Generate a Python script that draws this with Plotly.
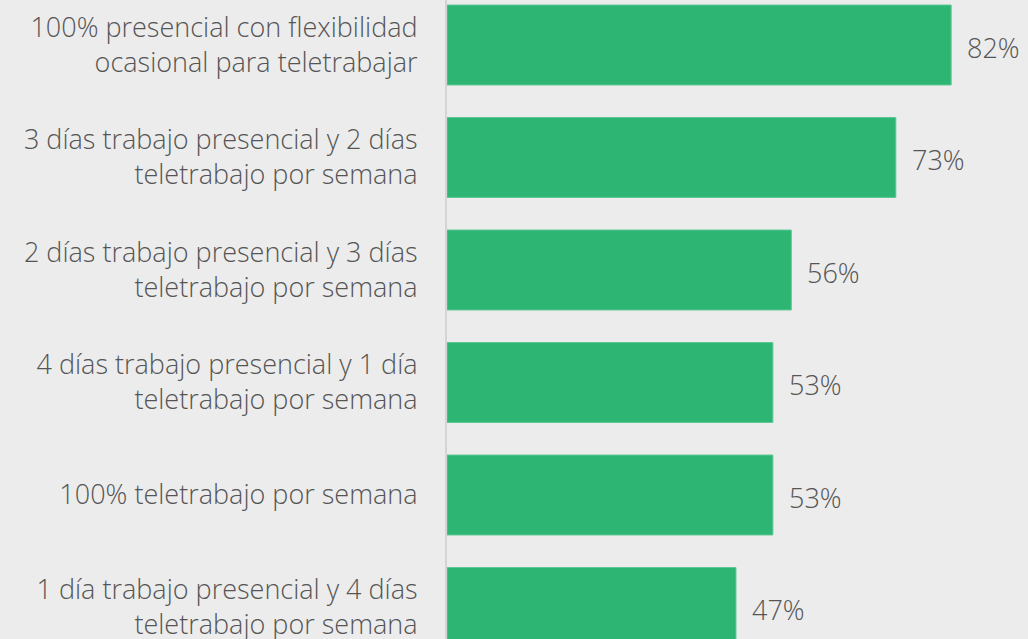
import plotly.graph_objects as go

categories = [
    "100% presencial con flexibilidad<br>ocasional para teletrabajar",
    "3 días trabajo presencial y 2 días<br>teletrabajo por semana",
    "2 días trabajo presencial y 3 días<br>teletrabajo por semana",
    "4 días trabajo presencial y 1 día<br>teletrabajo por semana",
    "100% teletrabajo por semana",
    "1 día trabajo presencial y 4 días<br>teletrabajo por semana",
]
values = [82, 73, 56, 53, 53, 47]
value_labels = ["82%", "73%", "56%", "53%", "53%", "47%"]

BG = "#ececec"
BAR = "#2db673"
TXT = "#555555"
FONT = "Open Sans"

fig = go.Figure()
fig.add_trace(go.Bar(
    x=values, y=categories, orientation="h",
    marker=dict(color=BAR, line=dict(width=1, color="#5cc693")),
    hoverinfo="skip",
))

for c, v, t in zip(categories, values, value_labels):
    fig.add_annotation(x=v, y=c, text=t, showarrow=False, xanchor="left",
                       xshift=14, yshift=-2,
                       font=dict(family=FONT, size=27, color=TXT, weight=300))

fig.update_layout(
    width=1028, height=639,
    paper_bgcolor=BG, plot_bgcolor=BG,
    margin=dict(l=447, r=0, t=0, b=0, autoexpand=False),
    bargap=0.29,
    showlegend=False,
    font=dict(family=FONT, size=27, color=TXT, weight=300),
    xaxis=dict(range=[0, 94.5], visible=False, showgrid=False, zeroline=False,
               automargin=False),
    yaxis=dict(
        categoryorder="array", categoryarray=categories,
        range=[5.28, -0.4], showgrid=False, zeroline=False,
        showline=True, linecolor="#d4d4d4", linewidth=2,
        ticks="", ticklabelstandoff=22, automargin=False,
        tickfont=dict(family=FONT, size=27, color=TXT, weight=300),
    ),
)

fig.write_html("out.html", config={"displayModeBar": False},
               post_script="document.body.style.margin='0';")
